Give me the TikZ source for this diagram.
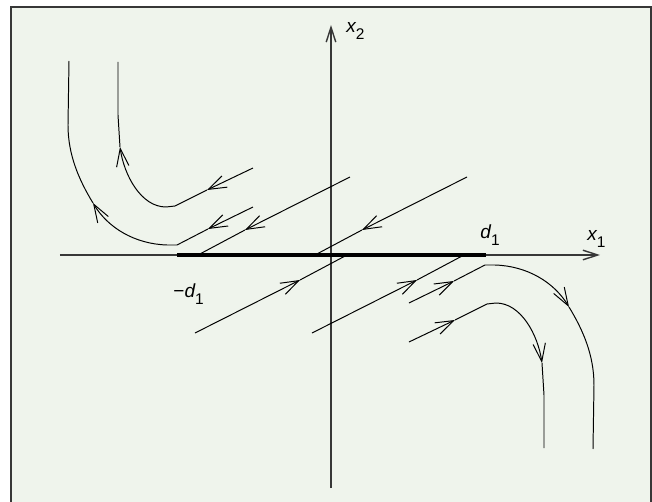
\documentclass[tikz,border=0pt]{standalone}
\usepackage{fontspec}
\setmainfont{Liberation Sans}
\usetikzlibrary{arrows.meta}
\definecolor{bggreen}{RGB}{239,244,236}
\definecolor{axisgray}{RGB}{55,55,55}
\tikzset{
  flow/.style={-{Straight Barb[length=4.5mm,width=3.1mm]}},
  axis/.style={axisgray, line width=1pt, -{Straight Barb[length=3.7mm,width=2.4mm]}},
  lbl/.style={inner sep=0pt, font=\fontsize{13.5}{16}\selectfont\itshape},
}
\newcommand{\subnum}[1]{\raisebox{-0.33em}{\fontsize{11}{13}\selectfont\upshape #1}}

\begin{document}
\begin{tikzpicture}[x=0.25mm, y=0.25mm, line width=0.7pt]
\useasboundingbox (-331,-247) rectangle (321,255);
\draw[axisgray, line width=1.4pt, fill=bggreen] (-320,-252) rectangle (320,248);
% axes and the segment [-d1,d1]
\coordinate (O) at (0,0);
\draw[axis] (-271,0) -- (269,0);
\draw[axis] (0,-233) -- (0,230);
\draw[line width=2.4pt] (-154,0) node (Dm) {} -- (155,0) node (Dp) {};
% trajectories: the lower half is the upper half turned round O
\foreach \r in {0,180}{
  \begin{scope}[rotate around={\r:(O)}]
    % inner curve
    \draw[flow] (-78,87) -- (-124,65);
    \draw[flow] (-124,65) -- (-156,49) -- (-165,48) .. controls (-190,48) and (-207,80) .. (-211,108);
    \draw (-211,108) -- (-213,140) -- (-213,193);
    % outer curve
    \draw[flow] (-78,48) -- (-123,26);
    \draw[flow] (-123,26) -- (-154,10) -- (-164,10) .. controls (-196,11) and (-223,27) .. (-238,52);
    \draw (-238,52) .. controls (-252,75) and (-263,100) .. (-263,130) -- (-262,194);
    % straight lines ending on the segment
    \draw[flow] (19,78) -- (-86,25);
    \draw (-86,25) -- (-133,0);
    \draw[flow] (136,78) -- (31,25);
    \draw (31,25) -- (-16,0);
  \end{scope}
}
% labels
\node[lbl, anchor=base west] (xtwo) at (15,222) {x\subnum{2}};
\node[lbl, anchor=base west] (xone) at (256,14) {x\subnum{1}};
\node[lbl, anchor=base west] (dp) at (149,16) {d\subnum{1}};
\node[lbl, anchor=base west] (dm) at (-158,-43) {\upshape−\itshape d\subnum{1}};
\end{tikzpicture}
\end{document}
